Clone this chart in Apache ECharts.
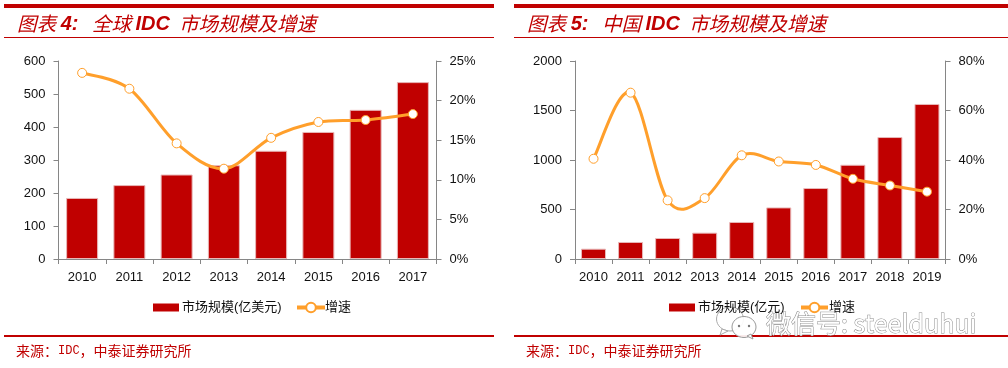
<!DOCTYPE html>
<html><head><meta charset="utf-8">
<style>html,body{margin:0;padding:0;background:#fff}#c{width:1008px;height:368px}</style>
<script src="https://cdn.jsdelivr.net/npm/echarts@6/dist/echarts.min.js"></script>
</head><body><div id="c"></div>
<script>
const yearsGlobal = ['2010','2011','2012','2013','2014','2015','2016','2017'];
const sizeGlobal = [185,224,256,284,328,385,452,536];
const growthGlobal = [23.5,21.5,14.6,11.4,15.3,17.3,17.55,18.3];
const yearsChina = ['2010','2011','2012','2013','2014','2015','2016','2017','2018','2019'];
const sizeChina = [104,172,212,266,374,521,717,952,1232,1566];
const growthChina = [40.5,67.2,23.7,24.6,41.9,39.4,38,32.4,29.7,27.2];
const titleGlobal = '图表 4:   全球 IDC  市场规模及增速';
const titleChina = '图表 5:   中国 IDC  市场规模及增速';
const sourceText = '来源\uFF1AIDC\uFF0C中泰证券研究所';
const legendGlobal = '市场规模(亿美元)';
const legendChina = '市场规模(亿元)';
const legendGrowth = '增速';

const RED='#C00000', ORANGE='#FF9F2B', AX='#868686', TXT='#111';
const FONT='"Liberation Sans",Arial,"Noto Sans CJK SC",sans-serif';
const chart=echarts.init(document.getElementById('c'),null,{renderer:'canvas'});

function catAxis(i,data){return {type:'category',gridIndex:i,data,boundaryGap:true,
  axisLine:{show:true,lineStyle:{color:AX,width:1}},
  axisTick:{show:true,alignWithLabel:false,length:5,lineStyle:{color:AX}},
  axisLabel:{color:TXT,fontFamily:FONT,fontSize:13,margin:12,interval:0}};}
function valAxis(i,pos,max,interval,suffix){return {type:'value',gridIndex:i,position:pos,min:0,max,interval,
  axisLine:{show:true,onZero:false,lineStyle:{color:AX,width:1}},
  axisTick:{show:true,length:5,lineStyle:{color:AX}},splitLine:{show:false},
  axisLabel:{color:TXT,fontFamily:FONT,fontSize:13,margin:13,formatter:v=>String(v)+(suffix||'')}};}
function bar(name,data,x,y,w){return {type:'bar',name,data,xAxisIndex:x,yAxisIndex:y,barWidth:w,
  itemStyle:{color:RED,borderColor:'#E8B8B8',borderWidth:1},silent:true,animation:false};}
// markers only; the curve itself is the spline series below
function line(data,x,y){return {type:'line',name:legendGrowth,data,xAxisIndex:x,yAxisIndex:y,smooth:false,
  symbol:'circle',symbolSize:9,showAllSymbol:true,
  lineStyle:{opacity:0,color:ORANGE,width:3},itemStyle:{color:'#fff',borderColor:ORANGE,borderWidth:1},z:6,animation:false};}
// Catmull-Rom curve through the same values, placed by the axis scales
function spline(values,x,y){return {type:'custom',name:'curve',coordinateSystem:'cartesian2d',xAxisIndex:x,yAxisIndex:y,
  data:values.map((v,i)=>[i,v]),z:5,silent:true,animation:false,clip:false,
  renderItem(params,api){
    const i=params.dataIndex; if(i>=values.length-1) return null;
    const pt=k=>{const j=Math.max(0,Math.min(values.length-1,k));return api.coord([j,values[j]]);};
    const p0=pt(i-1),p1=pt(i),p2=pt(i+1),p3=pt(i+2);
    return {type:'bezierCurve',shape:{x1:p1[0],y1:p1[1],x2:p2[0],y2:p2[1],
      cpx1:p1[0]+(p2[0]-p0[0])/6,cpy1:p1[1]+(p2[1]-p0[1])/6,
      cpx2:p2[0]-(p3[0]-p1[0])/6,cpy2:p2[1]-(p3[1]-p1[1])/6},
      style:{fill:null,stroke:ORANGE,lineWidth:3,lineCap:'round'}};
  }};}
function legend(left,top,name,w,h,pad,isLine){return {left,top,data:[{name,icon:isLine?undefined:'rect'}],itemWidth:w,itemHeight:h,padding:0,selectedMode:false,
  itemStyle:isLine?{}:{borderWidth:0},lineStyle:isLine?{opacity:1,width:4,color:ORANGE}:{},
  textStyle:{color:TXT,fontFamily:FONT,fontSize:13,padding:[0,0,0,pad]},itemGap:0};}
function rect(x,y,w,h){return {type:'rect',shape:{x,y,width:w,height:h},style:{fill:RED},silent:true};}
function richify(t){return t.replace(/[A-Za-z0-9:]+/g,m=>'{b|'+m+'}').replace(/[^\s{}|b]*[\u4e00-\u9fff]+[^\s{}|]*/g,m=>'{a|'+m+'}');}
function titleText(x,y,t){return {type:'text',x,y,silent:true,style:{text:richify(t),fill:RED,verticalAlign:'middle',fontSize:20,
  fontFamily:'"Noto Sans CJK SC",sans-serif',
  rich:{a:{fill:RED,fontSize:19.6,fontStyle:'italic',fontFamily:'"Noto Sans CJK SC",sans-serif'},
        b:{fill:RED,fontSize:20,fontStyle:'italic',fontWeight:'bold',fontFamily:'"Liberation Sans",sans-serif'}}}};}
function sourceEl(x,y,t){return {type:'text',x,y,silent:true,style:{
  text:t.replace(/[A-Z]+/g,m=>'}{b|'+m+'}{a|').replace(/^/,'{a|')+'}',
  fill:RED,verticalAlign:'middle',
  rich:{a:{fill:RED,fontSize:14,fontFamily:'"Noto Sans CJK SC",sans-serif'},
        b:{fill:RED,fontSize:12,fontFamily:'"Liberation Mono",monospace'}}}};}

chart.setOption({
  animation:false,backgroundColor:'#fff',
  grid:[{left:58.5,right:1008-436.5,top:61,height:198},{left:575,right:1008-945.5,top:61,height:198}],
  xAxis:[catAxis(0,yearsGlobal),catAxis(1,yearsChina)],
  yAxis:[valAxis(0,'left',600,100),valAxis(0,'right',25,5,'%'),
         valAxis(1,'left',2000,500),valAxis(1,'right',80,20,'%')],
  legend:[legend(153,301,legendGlobal,26,8,-2,false),legend(295,301,legendGrowth,28,12,-5,true),
          legend(669,301,legendChina,26,8,-2,false),legend(799,301,legendGrowth,27,12,-4,true)],
  series:[bar(legendGlobal,sizeGlobal,0,0,32),spline(growthGlobal,0,1),line(growthGlobal,0,1),
          bar(legendChina,sizeChina,1,2,25),spline(growthChina,1,3),line(growthChina,1,3)],
  graphic:[
    rect(4,4,490,4),rect(4,37,490,1),rect(4,335,490,2),
    rect(514,4,494,4),rect(514,37,494,1),rect(514,335,494,2),
    titleText(17,24,titleGlobal),titleText(527,24,titleChina),
    sourceEl(16,351,sourceText),sourceEl(526,351,sourceText),
    {type:'group',silent:true,z:100,children:[
      {type:'ellipse',shape:{cx:730,cy:319,rx:13.5,ry:12},style:{fill:'rgba(255,255,255,0.7)',stroke:'#aaa',lineWidth:1}},
      {type:'polygon',shape:{points:[[722,329],[720,335],[728,331]]},style:{fill:'#fff',stroke:'#aaa',lineWidth:1}},
      {type:'ellipse',shape:{cx:744,cy:327,rx:12,ry:10.5},style:{fill:'rgba(255,255,255,0.92)',stroke:'#999',lineWidth:1}},
      {type:'polygon',shape:{points:[[747,336],[753,339],[751,334]]},style:{fill:'#fff',stroke:'#999',lineWidth:1}},
      {type:'circle',shape:{cx:739,cy:326,r:1.2},style:{fill:'#777'}},
      {type:'circle',shape:{cx:749,cy:326,r:1.2},style:{fill:'#777'}},
      {type:'text',x:766,y:323,style:{text:'微信号: steelduhui',fill:'#fff',stroke:'#8c8c8c',lineWidth:1,fontSize:25,fontFamily:'"Noto Sans CJK SC","Liberation Sans",sans-serif',verticalAlign:'middle'}}
    ]}
  ]
});
</script></body></html>
